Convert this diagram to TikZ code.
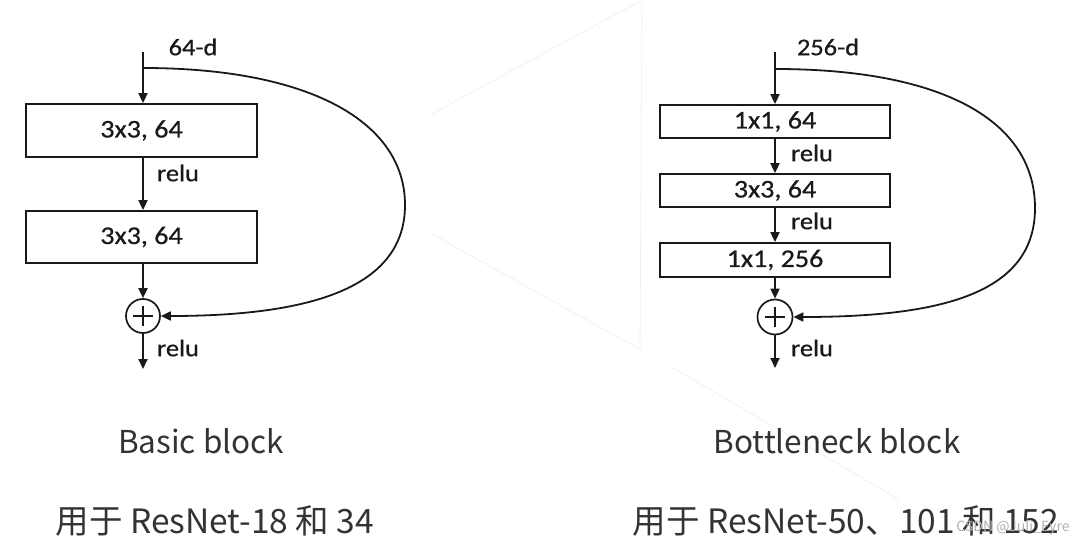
\documentclass[tikz,border=0pt]{standalone}
\usepackage{fontspec}
\setmainfont{Carlito}
\newfontfamily\diagfont[FakeStretch=1.1,FakeBold=0.6]{Carlito}
\newfontfamily\capfont{Noto Sans CJK SC}
\usetikzlibrary{arrows.meta}
\definecolor{capgray}{HTML}{333333}
\definecolor{bgline}{HTML}{F1F1F4}
\tikzset{
  layerbox/.style={draw=black!90, line width=1.8pt, fill=white, inner sep=0pt,
    font=\diagfont\fontsize{25.5}{27}\selectfont, text=black!90},
  addnode/.style={draw=black!90, line width=1.7pt, circle, inner sep=0pt,
    path picture={\draw[line width=1.6pt,black!90]
      ([xshift=-10pt]path picture bounding box.center) -- ([xshift=10pt]path picture bounding box.center)
      ([yshift=-10pt]path picture bounding box.center) -- ([yshift=10pt]path picture bounding box.center);}},
  flow/.style={draw=black!90, line width=1.8pt, -{Triangle[length=10pt,width=9pt]}},
  lbl/.style={font=\diagfont\fontsize{24}{26}\selectfont, text=black!90, inner sep=0pt},
  captxt/.style={font=\capfont\fontsize{31.5}{34}\selectfont, text=capgray, inner sep=0pt},
  captxtcjk/.style={font=\capfont\fontsize{33.5}{36}\selectfont, text=capgray, inner sep=0pt},
}
\begin{document}
\begin{tikzpicture}[x=1pt,y=-1pt]
\useasboundingbox (0,0) rectangle (1082,548);
\fill[white] (0,0) rectangle (1082,548);
% faint background decoration
\draw[bgline, line width=0.8pt] (430,115) -- (642,0) (430,233) -- (641,350) (642,0) -- (640,350)
  (673,368) -- (900,500);

% ---------- Basic block ----------
\coordinate (lt) at (143,52);
\coordinate (ls) at (143,68);
\node[layerbox, minimum width=231pt, minimum height=53pt] (b1) at (141.5,130.5) {3x3, 64};
\node[layerbox, minimum width=231pt, minimum height=52pt] (b2) at (141.5,237) {3x3, 64};
\node[addnode, minimum size=34pt] (p1) at (143,316) {};
\coordinate (lb) at (143,369);
\draw[flow] (lt) -- (b1.north -| lt);
\draw[flow] (b1.south -| lt) -- (b2.north -| lt);
\draw[flow] (b2.south -| lt) -- (p1.north);
\draw[flow] (p1.south) -- (lb);
\draw[flow] (ls) .. controls (310,68) and (405,122) .. (405,205)
  .. controls (405,288) and (310,316) .. (p1.east);
\node[lbl] (l64) at (193,47) {64-d};
\node[lbl] (lr1) at (178,173) {relu};
\node[lbl] (lr2) at (178,348) {relu};

% ---------- Bottleneck block ----------
\coordinate (rt) at (775,52);
\coordinate (rs) at (775,69);
\node[layerbox, minimum width=230pt, minimum height=33pt] (r1) at (775,121.5) {1x1, 64};
\node[layerbox, minimum width=230pt, minimum height=33pt] (r2) at (775,190.5) {3x3, 64};
\node[layerbox, minimum width=230pt, minimum height=34pt] (r3) at (775,260) {1x1, 256};
\node[addnode, minimum size=35pt] (q1) at (775,317) {};
\coordinate (rb) at (775,368);
\draw[flow] (rt) -- (r1.north);
\draw[flow] (r1.south) -- (r2.north);
\draw[flow] (r2.south) -- (r3.north);
\draw[flow] (r3.south) -- (q1.north);
\draw[flow] (q1.south) -- (rb);
\draw[flow] (rs) .. controls (945,69) and (1035,122) .. (1035,208)
  .. controls (1035,292) and (945,317) .. (q1.east);
\node[lbl] (r256) at (828,47) {256-d};
\node[lbl] (rr1) at (812,153) {relu};
\node[lbl] (rr2) at (812,221) {relu};
\node[lbl] (rr3) at (812,348) {relu};

% ---------- captions ----------
\node[captxt] (c1) at (201,441) {Basic block};
\node[captxt] (c2) at (837,441) {Bottleneck block};
\node[captxtcjk] (c3) at (215,521) {用于 ResNet-18 和 34};
\node[captxtcjk] (c4) at (846,521) {用于 ResNet-50、101 和 152};
\node[font=\capfont\fontsize{14}{15}\selectfont, text=black!30, inner sep=0pt] (wm) at (1013,528) {CSDN @Juli\_Eyre};
\end{tikzpicture}
\end{document}
